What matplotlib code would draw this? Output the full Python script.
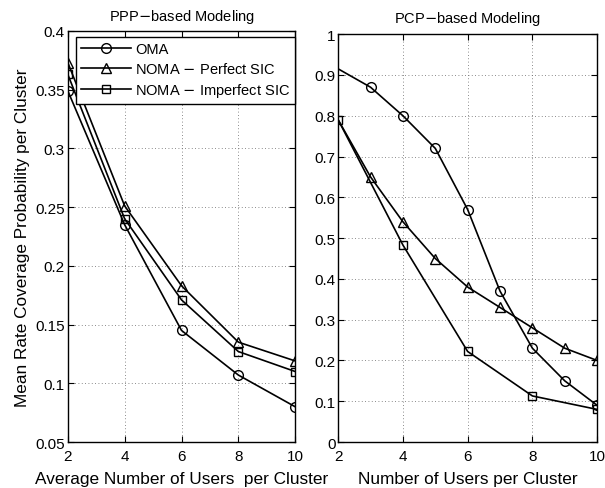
import matplotlib.pyplot as plt

plt.rcParams['font.family'] = ['Liberation Sans', 'DejaVu Sans']

# PPP-based modeling (average users per cluster)
ppp_users = [2, 4, 6, 8, 10]
ppp_oma = [0.349, 0.235, 0.145, 0.107, 0.080]
ppp_noma_perfect = [0.373, 0.251, 0.183, 0.135, 0.119]
ppp_noma_imperfect = [0.363, 0.240, 0.171, 0.127, 0.110]

# PCP-based modeling (users per cluster)
pcp_users = [2, 3, 4, 5, 6, 7, 8, 9, 10]
pcp_oma = [0.915, 0.87, 0.80, 0.72, 0.57, 0.37, 0.23, 0.15, 0.09]
pcp_noma_perfect = [0.79, 0.65, 0.54, 0.45, 0.38, 0.33, 0.28, 0.23, 0.20]
pcp_users_imp = [2, 4, 6, 8, 10]
pcp_noma_imperfect = [0.79, 0.483, 0.222, 0.113, 0.080]

labels = ['OMA', 'NOMA $-$ Perfect SIC', 'NOMA $-$ Imperfect SIC']

fig = plt.figure(figsize=(6.05, 4.89), dpi=100)
ax1 = fig.add_axes([0.112, 0.094, 0.376, 0.841])
ax2 = fig.add_axes([0.559, 0.094, 0.428, 0.834])

style = dict(color='black', lw=1.2, markersize=7, markerfacecolor='none',
             markeredgewidth=1.0)

ax1.plot(ppp_users, ppp_oma, marker='o', label=labels[0], **style)
ax1.plot(ppp_users, ppp_noma_perfect, marker='^', label=labels[1], **style)
ax1.plot(ppp_users, ppp_noma_imperfect, marker='s', label=labels[2],
         **dict(style, markersize=6))

ax2.plot(pcp_users, pcp_oma, marker='o', markevery=slice(1, None), **style)
ax2.plot(pcp_users, pcp_noma_perfect, marker='^', markevery=slice(1, None), **style)
ax2.plot(pcp_users_imp, pcp_noma_imperfect, marker='s', **dict(style, markersize=6))

ax1.set_xlim(2, 10)
ax1.set_ylim(0.05, 0.4)
ax1.set_yticks([0.05, 0.1, 0.15, 0.2, 0.25, 0.3, 0.35, 0.4])
ax1.set_yticklabels(['0.05', '0.1', '0.15', '0.2', '0.25', '0.3', '0.35', '0.4'])
ax2.set_xlim(2, 10)
ax2.set_ylim(0, 1)
ax2.set_yticks([0, 0.1, 0.2, 0.3, 0.4, 0.5, 0.6, 0.7, 0.8, 0.9, 1])
ax2.set_yticklabels(['0', '0.1', '0.2', '0.3', '0.4', '0.5', '0.6', '0.7', '0.8', '0.9', '1'])

for ax in (ax1, ax2):
    ax.set_xticks([2, 4, 6, 8, 10])
    ax.grid(True, linestyle=(0, (1, 3)), color='0.4', lw=0.6)
    ax.tick_params(direction='in', top=True, right=True, labelsize=11,
                   length=4, width=0.8)
    ax.tick_params(axis='x', pad=5)
    ax.tick_params(axis='y', pad=2)
    for sp in ax.spines.values():
        sp.set_linewidth(1.0)

ax1.set_title('PPP$-$based Modeling', fontsize=10.5, pad=8)
ax2.set_title('PCP$-$based Modeling', fontsize=10.5, pad=9)
ax1.set_xlabel('Average Number of Users  per Cluster', fontsize=12.4, labelpad=6)
ax2.set_xlabel('Number of Users per Cluster', fontsize=12.4, labelpad=6)
ax1.set_ylabel('Mean Rate Coverage Probability per Cluster', fontsize=12.4, labelpad=4)

leg = ax1.legend(loc='upper right', bbox_to_anchor=(1.0, 0.985), fontsize=10.5,
                 fancybox=False, framealpha=1, edgecolor='black',
                 handlelength=3.4, borderaxespad=0, labelspacing=0.35,
                 handletextpad=0.3, borderpad=0.35)
leg.get_frame().set_linewidth(1.0)

plt.savefig('out.png', dpi=100)
